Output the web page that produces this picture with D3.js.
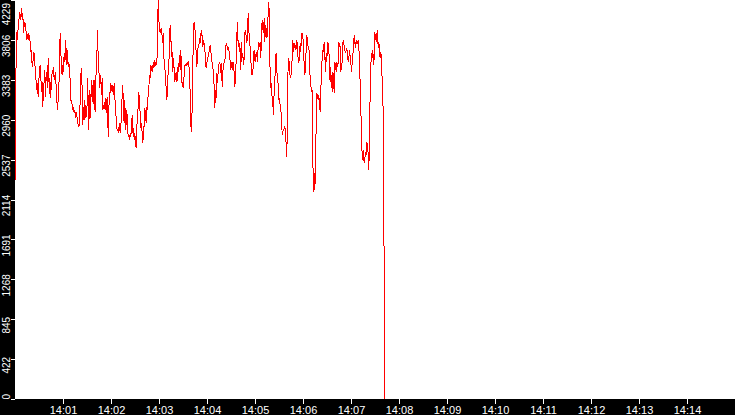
<!DOCTYPE html>
<html><head><meta charset="utf-8">
<script src="https://cdn.jsdelivr.net/npm/d3@7"></script>
<style>html,body{margin:0;padding:0;background:#fff;overflow:hidden}svg{display:block}</style>
</head><body><svg id="c" width="735" height="415"></svg>
<script>
// ---- data ----
const startTime = "14:00:00";
const sampleSeconds = 0.8333;
const values = [
2321,3840,3893,3805,3946,4000,4105,4017,4052,4141,4017,4088,3876,3964,4000,3929,3893,3805,3840,3876,3823,3840,3787,
3681,3699,3522,3540,3681,3664,3575,3399,3381,3275,3346,3204,3363,3505,3540,
3416,3257,3363,3098,3310,3363,3487,3204,3416,3469,
3293,3611,3363,3399,3187,3363,3275,3487,3452,3522,
3381,3416,3469,3293,3169,3063,3169,3275,3575,3876,
3699,3469,3434,3540,3469,3664,3575,3805,3540,3717,
3664,3522,3575,3469,3381,3169,3151,3116,3063,3098,
3028,3063,2975,3045,3010,2939,2904,2886,2922,3169,
3434,3505,3275,2904,3098,2957,3169,2975,3098,2992,
3399,3169,2851,3275,2975,3169,3381,3151,3310,3381,
3063,3381,3045,3540,3628,3911,3628,3522,3293,3434,
3381,3222,3399,3063,3098,3081,3134,3187,3028,3169,
3204,2780,3063,3257,3240,3346,3275,3257,3328,3222,
3346,3204,3081,2975,2869,2851,2869,2816,2922,2816,
2833,3169,3187,3328,3010,2922,3169,2851,2922,3063,
2886,2780,2798,2745,2816,2780,2886,3010,2816,2869,
2745,2816,2710,2657,2886,2975,3098,3257,3134,3028,
2869,2922,2816,2710,2833,2904,3081,3010,2922,3098,
3063,3240,3293,3434,3399,3540,3505,3469,3522,3505,
3593,3522,3540,3575,3540,3805,4229,4017,3929,3876,
3911,3929,3840,3770,3876,3522,3540,3346,3310,3169,
3293,3469,3505,3823,3964,3858,3628,3681,3469,3611,
3487,3363,3416,3469,3363,3399,3558,3469,3646,3487,
3699,3487,3310,3363,3293,3452,3540,3540,3558,3540,
3558,3575,3558,3416,3240,2904,2833,3081,3540,3911,
4000,3964,3770,3681,3522,3611,3752,3734,
3823,3770,3876,3893,3840,3734,3787,3770,3717,3575,
3505,3558,3593,3628,3664,3717,3752,3681,3646,3558,
3505,3469,3293,3081,3275,3187,3452,3346,3469,3540,
3575,3540,3452,3558,3310,3469,3522,3575,3575,3664,
3770,3752,3699,3734,3699,3664,3575,3487,3558,3575,
3487,3575,3452,3310,3416,3593,3840,4000,3734,3805,
3681,3717,3487,3787,3611,3664,3540,3611,3876,3911,
3840,3770,3858,4088,3911,3787,3734,3611,3434,3469,
3434,3664,3699,3593,3575,3681,3646,3575,3734,3787,
3734,3787,3611,3876,4017,3929,3876,4035,3787,3964,
3823,3929,3840,4105,4211,3982,3381,3293,3346,3169,
3134,3010,3275,3346,3611,3664,3487,3381,3346,3169,
3187,3116,3045,3028,2798,2833,2851,2869,2886,2833,
2692,2568,3028,3593,3611,3522,3416,3399,3522,3593,
3805,3681,3734,3770,3699,3717,3805,3734,3593,3558,
3646,3770,3681,3876,3876,3840,3752,3540,3434,3522,
3699,3858,3787,3734,3717,3664,3381,3328,3257,3275,
2551,2197,2392,2215,2410,2904,3240,3222,3169,3222,
3116,3045,3275,3469,3611,3699,3681,3787,3646,3469,
3664,3575,3787,3699,3770,3381,3522,3363,3434,3257,
3469,3434,3240,3575,3540,3469,3575,3522,3558,3787,
3734,3734,3469,3522,3575,3770,3805,3734,3699,3664,
3699,3717,3646,3575,3611,3699,3628,3575,3469,3558,
3646,3717,3858,3787,3717,3805,3770,3770,3805,3734,
3593,3346,3116,2710,2604,2533,2639,2498,2551,2604,
2586,2727,2674,2604,2427,2745,3240,3540,3664,3611,
3699,3540,3611,3893,3805,3876,3787,3911,3717,3787,
3699,3611,3681,3593,3381,3204,2869,
1282,0
];
const xTickLabels = ["14:01","14:02","14:03","14:04","14:05","14:06","14:07","14:08","14:09","14:10","14:11","14:12","14:13","14:14"];
const yTickLabels = ["0","422","845","1268","1691","2114","2537","2960","3383","3806","4229"];

// ---- layout ----
const W = 735, H = 415, left = 15, bottom = 399;
const FONT = "'Liberation Sans', Arial, sans-serif";
const parseT = d3.timeParse("%H:%M:%S");
const parseHM = d3.timeParse("%H:%M");
const t0 = parseT(startTime);
const x = d3.scaleTime().domain([t0, d3.timeMinute.offset(t0, 15)]).range([left, W]);
const y = d3.scaleLinear().domain([0, d3.max(values)]).range([bottom, 0]);

const svg = d3.select("#c");
svg.append("rect").attr("width", W).attr("height", H).attr("fill", "#fff");

const line = d3.line()
  .x((d, i) => x(new Date(t0.getTime() + i * sampleSeconds * 1000)))
  .y(d => y(d));
svg.append("path").datum(values)
  .attr("d", line)
  .attr("transform", "translate(0.5,0)")
  .attr("fill", "none")
  .attr("stroke", "#ff0000")
  .attr("stroke-width", 1)
  .attr("shape-rendering", "crispEdges");

svg.append("rect").attr("x", 0).attr("y", 0).attr("width", left).attr("height", H).attr("fill", "#000");
svg.append("rect").attr("x", 0).attr("y", bottom).attr("width", W).attr("height", H - bottom).attr("fill", "#000");

// x axis
const xa = svg.append("g").attr("transform", `translate(0,${bottom})`)
  .call(d3.axisBottom(x).tickValues(xTickLabels.map(parseHM)).tickFormat(d3.timeFormat("%H:%M")).tickSize(5).tickPadding(2));
xa.select(".domain").remove();
xa.attr("font-family", FONT).attr("font-size", 11);
xa.selectAll("line").attr("stroke", "#fff").attr("shape-rendering", "crispEdges");
xa.selectAll("text").attr("fill", "#fff");

// y axis
const yVals = yTickLabels.map(Number);
const ya = svg.append("g").attr("transform", `translate(${left},0)`)
  .call(d3.axisLeft(y).tickValues(yVals).tickFormat((d, i) => yTickLabels[i]).tickSize(4));
ya.select(".domain").remove();
ya.attr("font-family", FONT).attr("font-size", 10);
ya.selectAll("line").attr("stroke", "#fff").attr("shape-rendering", "crispEdges");
const n = yVals.length;
ya.selectAll("text")
  .attr("fill", "#fff")
  .attr("x", null).attr("dy", null)
  .attr("text-anchor", (d, i) => i === 0 ? "start" : (i === n - 1 ? "end" : "middle"))
  .attr("transform", (d, i) => {
    let off = 5.5;
    if (i === 0) off = bottom - y(d);
    if (i === n - 1) off = 2.5 - y(d);
    return `translate(-5,${off}) rotate(-90)`;
  });
</script>
</body></html>
